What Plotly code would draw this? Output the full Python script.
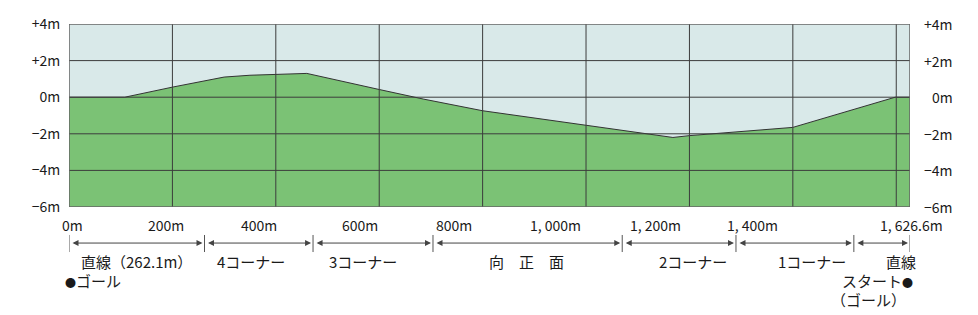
import plotly.graph_objects as go

# ---- data ----
course_length = 1626.6
profile_dist = [0, 108, 200, 300, 350, 460, 600, 685, 800, 1000, 1168, 1200, 1400, 1598, 1626.6]
profile_elev = [0, 0, 0.55, 1.1, 1.2, 1.3, 0.42, -0.1, -0.74, -1.53, -2.2, -2.1, -1.65, 0, 0]

y_tickvals = [4, 2, 0, -2, -4, -6]
y_ticktext = ["+4m", "+2m", "0m", "−2m", "−4m", "−6m"]

x_grid = [200, 400, 600, 800, 1000, 1200, 1400, 1600]
x_labels = ["0m", "200m", "400m", "600m", "800m", "1, 000m", "1, 200m", "1, 400m", "1, 626.6m"]
x_label_pos = [0.0040, 0.1153, 0.2259, 0.3460, 0.4578, 0.5779, 0.6968, 0.8133, 1.0012]  # paper

seg_bounds = [0, 262.1, 472, 704, 1070, 1290, 1518, 1626.6]
seg_names = ["直線（262.1m）", "4コーナー", "3コーナー", "向　正　面", "2コーナー", "1コーナー", "直線"]
seg_label_pos = [131.5, 352, 569, 884, 1207, 1437, 1609]

YMIN, YMAX = -6, 4
FONT = "Noto Sans CJK JP"
SKY = "#d9e9e9"
GREEN = "#7bc275"
GRID = "#3c3c3c"
TXT = "#1a1a1a"
DOT = '<span style="font-size:11px">●</span>'

fig = go.Figure()
fig.add_trace(go.Scatter(x=[0, course_length], y=[YMIN, YMIN], mode="lines",
                         line=dict(width=0, color=GREEN), hoverinfo="skip", showlegend=False))
fig.add_trace(go.Scatter(x=profile_dist, y=profile_elev, mode="lines", fill="tonexty",
                         fillcolor=GREEN, line=dict(color="#333333", width=1),
                         showlegend=False))

shapes = []
for gx in x_grid:
    shapes.append(dict(type="line", xref="x", yref="y", x0=gx, x1=gx, y0=YMIN, y1=YMAX,
                       line=dict(color=GRID, width=1), layer="above"))
for gy in y_tickvals[1:-1]:
    shapes.append(dict(type="line", xref="x", yref="y", x0=0, x1=course_length, y0=gy, y1=gy,
                       line=dict(color=GRID, width=1), layer="above"))
shapes.append(dict(type="rect", xref="x", yref="y", x0=0, x1=course_length, y0=YMIN, y1=YMAX,
                   line=dict(color="#666666", width=1.5), layer="above"))
for b in seg_bounds:
    shapes.append(dict(type="line", xref="x", yref="paper", x0=b, x1=b, y0=-0.153, y1=-0.246,
                       line=dict(color="#555555", width=1)))

ann = []
for t, p in zip(x_labels, x_label_pos):
    ann.append(dict(x=p, y=-0.098, xref="paper", yref="paper", text=t, showarrow=False,
                    font=dict(size=14, color=TXT, family=FONT), xanchor="center", yanchor="middle"))
for v, t in zip(y_tickvals, y_ticktext):
    ann.append(dict(x=1.0535, y=v, xref="paper", yref="y", text=t, showarrow=False,
                    font=dict(size=14, color=TXT, family=FONT), xanchor="right", yanchor="middle"))
for a, b in zip(seg_bounds[:-1], seg_bounds[1:]):
    ann.append(dict(x=b, y=-0.197, xref="x", yref="paper", ax=a, ay=0, axref="x", ayref="pixel",
                    text="", showarrow=True, arrowside="end+start", arrowhead=2, arrowsize=1.2,
                    arrowwidth=1, arrowcolor="#444444", standoff=2, startstandoff=2))
for t, p in zip(seg_names, seg_label_pos):
    ann.append(dict(x=p, y=-0.30, xref="x", yref="paper", text=t, showarrow=False,
                    font=dict(size=15, color=TXT, family=FONT), xanchor="center", yanchor="middle"))
ann.append(dict(x=-0.0071, y=-0.399, xref="paper", yref="paper", text=DOT + "ゴール", showarrow=False,
                font=dict(size=15, color=TXT, family=FONT), xanchor="left", yanchor="middle"))
ann.append(dict(x=1.006, y=-0.404, xref="paper", yref="paper", text="スタート" + DOT, showarrow=False,
                font=dict(size=15, color=TXT, family=FONT), xanchor="right", yanchor="middle"))
ann.append(dict(x=0.9501, y=-0.508, xref="paper", yref="paper", text="（ゴール）", showarrow=False,
                font=dict(size=15, color=TXT, family=FONT), xanchor="center", yanchor="middle"))

fig.update_layout(
    width=978, height=315,
    margin=dict(l=69, r=68, t=24, b=108),
    paper_bgcolor="white", plot_bgcolor=SKY,
    font=dict(family=FONT, color=TXT),
    xaxis=dict(range=[0, course_length], showgrid=False, zeroline=False, showticklabels=False,
               ticks="", fixedrange=True),
    yaxis=dict(range=[YMIN, YMAX], showgrid=False, zeroline=False, tickvals=y_tickvals,
               ticktext=y_ticktext, ticks="outside", ticklen=5, tickcolor="rgba(0,0,0,0)",
               tickfont=dict(size=14, color=TXT, family=FONT)),
    shapes=shapes, annotations=ann,
    showlegend=False,
)

fig.write_html("out.html")
